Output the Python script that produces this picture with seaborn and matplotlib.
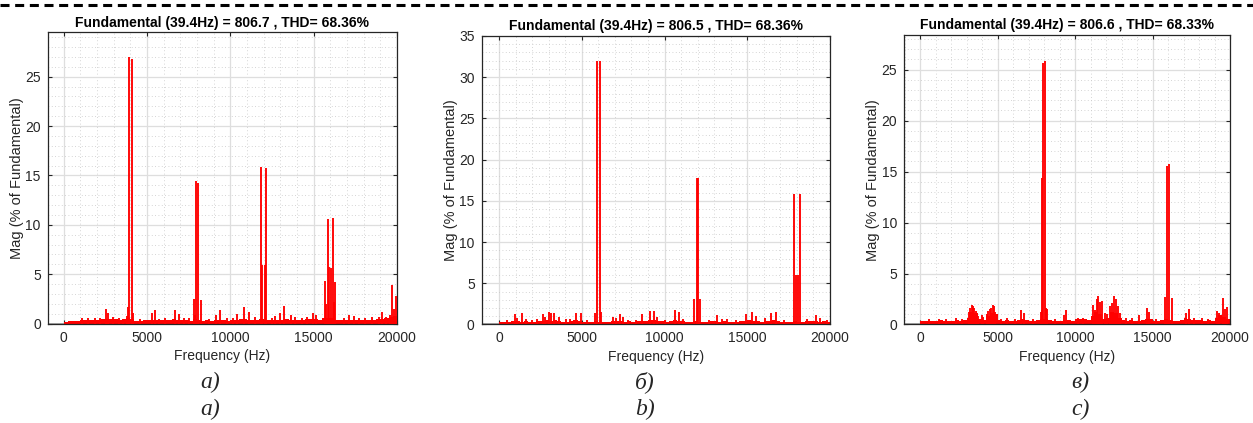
import matplotlib
matplotlib.use('Agg')
import matplotlib.pyplot as plt
from matplotlib.lines import Line2D
from matplotlib.ticker import MultipleLocator
import seaborn as sns

sns.set_theme(style='white')
plt.rcParams['font.family'] = ['Liberation Sans', 'DejaVu Sans']

# panel texts
titles = ['Fundamental (39.4Hz) = 806.7 , THD= 68.36%',
          'Fundamental (39.4Hz) = 806.5 , THD= 68.36%',
          'Fundamental (39.4Hz) = 806.6 , THD= 68.33%']
captions_ru = ['а)', 'б)', 'в)']
captions_en = ['a)', 'b)', 'c)']
y_top = [29.5, 35, 28.4]
x_left = [-950, -1050, -1020]

# noise floor, 250 Hz blocks from 0 to 20000 Hz
floor_hz = list(range(0, 20000, 250))
floor_a = [0.2, 0.25, 0.3, 0.3, 0.35, 0.35, 0.4, 0.35, 0.4, 0.45, 0.5, 0.45,
           0.45, 0.4, 0.45, 0.55, 0.5, 0.3, 0.3, 0.35, 0.35, 0.4, 0.35, 0.35,
           0.35, 0.35, 0.45, 0.4, 0.35, 0.35, 0.3, 0.45, 0.4, 0.3, 0.35, 0.3,
           0.35, 0.4, 0.35, 0.3, 0.35, 0.4, 0.45, 0.45, 0.4, 0.35, 0.35, 0.45,
           0.4, 0.35, 0.35, 0.4, 0.4, 0.45, 0.35, 0.35, 0.35, 0.4, 0.45, 0.5,
           0.45, 0.4, 0.55, 0.6, 0.55, 0.35, 0.35, 0.4, 0.35, 0.35, 0.4, 0.35,
           0.35, 0.4, 0.4, 0.45, 0.5, 0.55, 0.65, 0.75]
floor_b = [0.25, 0.3, 0.35, 0.4, 0.45, 0.35, 0.4, 0.35, 0.35, 0.4, 0.45, 0.5,
           0.45, 0.5, 0.4, 0.35, 0.35, 0.4, 0.5, 0.45, 0.3, 0.35, 0.3, 0.45,
           0.35, 0.3, 0.35, 0.4, 0.45, 0.4, 0.35, 0.4, 0.35, 0.4, 0.45, 0.4,
           0.5, 0.55, 0.45, 0.4, 0.35, 0.4, 0.5, 0.45, 0.4, 0.35, 0.3, 0.4,
           0.35, 0.3, 0.35, 0.4, 0.45, 0.35, 0.4, 0.35, 0.35, 0.3, 0.4, 0.45,
           0.5, 0.45, 0.4, 0.35, 0.4, 0.45, 0.5, 0.45, 0.35, 0.3, 0.35, 0.4,
           0.35, 0.35, 0.4, 0.45, 0.4, 0.35, 0.4, 0.35]
floor_c = [0.3, 0.35, 0.35, 0.35, 0.35, 0.4, 0.35, 0.35, 0.35, 0.4, 0.35, 0.4,
           0.6, 1.2, 1.1, 0.5, 0.45, 0.8, 1.1, 1.0, 0.4, 0.35, 0.4, 0.35,
           0.35, 0.4, 0.5, 0.4, 0.35, 0.35, 0.4, 0.5, 0.5, 0.4, 0.35, 0.35,
           0.35, 0.45, 0.4, 0.35, 0.5, 0.55, 0.5, 0.4, 0.8, 1.2, 1.0, 0.5,
           0.6, 1.2, 1.1, 0.6, 0.4, 0.35, 0.4, 0.35, 0.35, 0.45, 0.55, 0.5,
           0.35, 0.35, 0.4, 0.5, 0.45, 0.35, 0.35, 0.45, 0.6, 0.5, 0.45, 0.4,
           0.4, 0.35, 0.4, 0.35, 0.6, 0.9, 0.7, 0.5]

# harmonic lines (Hz, % of fundamental)
spike_hz_a = [3920, 4080, 3860, 4150, 3800, 7960, 8040, 7800, 8260, 7880,
              11840, 11920, 12080, 12160, 15700, 15760, 15840, 15950, 16070,
              16190, 16240, 16290, 19080, 19340, 19560, 19700, 19840, 19940,
              2550, 2670, 2990, 5300, 5460, 6680, 6900, 9130, 9370, 10390,
              10800, 11120, 12960, 13230, 13640, 14940, 15120, 17150, 17400,
              1100, 1450, 1900, 2200, 3300, 3550, 4600, 5700, 6100, 7200, 7500,
              8700, 9800, 10150, 11500, 12500, 12700, 13900, 14300, 14600,
              16800, 17700, 18100, 18500, 18900]
spike_mag_a = [27.0, 26.8, 1.65, 1.05, 0.8, 14.4, 14.2, 2.5, 2.4, 0.9,
               15.9, 5.9, 5.9, 15.8, 4.3, 2.0, 10.6, 5.77, 5.6,
               10.65, 2.2, 4.25, 1.15, 0.7, 0.9, 3.95, 1.45, 2.8,
               1.45, 1.04, 0.7, 1.1, 1.38, 1.38, 0.97, 0.84, 1.38, 0.97,
               1.7, 1.15, 1.1, 1.75, 0.85, 1.04, 0.87, 0.9, 0.8,
               0.55, 0.6, 0.6, 0.55, 0.6, 0.5, 0.45, 0.5, 0.55, 0.6, 0.55,
               0.5, 0.55, 0.6, 0.65, 0.6, 0.75, 0.65, 0.6, 0.7,
               0.6, 0.55, 0.6, 0.65, 0.7]
spike_hz_b = [5920, 6080, 5810, 6140, 11960, 12040, 11800, 12160,
              17840, 17920, 18080, 18160,
              950, 1110, 1360, 1640, 2640, 2770, 3000, 3150, 3300, 3610, 4030,
              4680, 4940, 6860, 7080, 7300, 7500, 8670, 9120, 9350, 9520,
              10620, 10880, 13150, 14920, 15270, 15530, 16420, 16760, 19130,
              19400,
              500, 2000, 2300, 4300, 5300, 7800, 8300, 10000, 11100, 12700,
              13500, 13800, 14300, 16100, 17200, 18600, 19800]
spike_mag_b = [32.0, 32.0, 1.44, 1.56, 17.8, 17.8, 3.07, 3.07,
               15.85, 6.0, 6.0, 15.85,
               1.28, 0.75, 1.35, 0.7, 1.25, 0.95, 1.5, 1.44, 1.38, 0.95, 0.7,
               1.44, 1.36, 0.95, 0.83, 1.3, 0.95, 1.24, 1.6, 1.65, 0.95,
               1.77, 1.48, 1.12, 1.24, 1.56, 1.04, 1.44, 1.48, 1.14,
               0.75,
               0.5, 0.6, 0.7, 0.65, 0.6, 0.6, 0.55, 0.6, 0.7, 0.6,
               0.7, 0.65, 0.6, 0.75, 0.6, 0.7, 0.6]
spike_hz_c = [7920, 8080, 7870, 7800, 7840, 8150, 8200,
              15920, 16080, 15830, 16240,
              3150, 3250, 3330, 3420, 3500, 3580, 3680, 3760, 3980, 4080,
              4300, 4400, 4500, 4600, 4690, 4780, 4860,
              6540, 6710, 9290, 9440, 11180, 11300, 11400, 11480, 11610, 11720,
              11910, 12040, 12260, 12390, 12540, 12650, 12770, 12900, 14110,
              14670, 14800, 17160, 17330, 19140, 19310, 19530, 19680, 19790,
              600, 1200, 1700, 2300, 2700, 5200, 5600, 6100, 7300, 8700, 10200,
              10500, 13300, 13700, 15200, 17700, 18200, 18600]
spike_mag_c = [25.65, 25.8, 14.4, 1.2, 1.4, 1.6, 1.5,
               15.5, 15.75, 2.7, 2.63,
               1.2, 1.6, 1.94, 1.85, 1.6, 1.3, 1.1, 0.8, 0.93, 0.7,
               1.0, 1.3, 1.55, 1.6, 1.94, 1.8, 1.2,
               1.42, 1.1, 0.96, 1.45, 1.9, 1.4, 2.47, 2.8, 2.2, 2.33,
               1.1, 1.0, 1.8, 2.1, 2.8, 2.47, 1.8, 1.1, 0.93,
               1.58, 1.25, 1.16, 1.49, 1.3, 1.1, 2.6, 1.55, 1.7,
               0.5, 0.55, 0.5, 0.6, 0.55, 0.55, 0.6, 0.5, 0.55, 0.5, 0.65,
               0.6, 0.6, 0.6, 0.55, 0.65, 0.6, 0.55]

floors = [floor_a, floor_b, floor_c]
spikes = [(spike_hz_a, spike_mag_a), (spike_hz_b, spike_mag_b), (spike_hz_c, spike_mag_c)]

rects = [(0.0381, 0.235, 0.2787, 0.6886),
         (0.3844, 0.2329, 0.2780, 0.6820),
         (0.7217, 0.2329, 0.2600, 0.6844)]
caption_x = [210 / 1253, 645 / 1253, 1080 / 1253]

fig = plt.figure(figsize=(12.53, 4.23), dpi=100)
fig.add_artist(Line2D([0, 1], [0.989, 0.989], transform=fig.transFigure,
                      color='black', lw=2.2, dashes=(2.95, 1.85)))

for i in range(3):
    ax = fig.add_axes(rects[i])
    ax.set_facecolor('white')
    ax.axhline(0, color='0.6', lw=1.2, zorder=1)
    ax.bar(floor_hz, floors[i], width=250, align='edge', color='red', lw=0, zorder=2)
    hz, mag = spikes[i]
    ax.vlines(hz, 0, mag, color='red', lw=1.35, zorder=3)
    ax.set_xlim(x_left[i], 20000)
    ax.set_ylim(0, y_top[i])
    ax.set_xticks([0, 5000, 10000, 15000, 20000])
    ax.yaxis.set_major_locator(MultipleLocator(5))
    ax.xaxis.set_minor_locator(MultipleLocator(1000))
    ax.yaxis.set_minor_locator(MultipleLocator(1))
    ax.grid(which='major', color='0.87', lw=0.9, ls='-', zorder=0)
    ax.grid(which='minor', color='0.78', lw=0.6, ls=(0, (1, 3)), zorder=0)
    ax.set_axisbelow(True)
    ax.tick_params(which='major', direction='in', length=3, width=0.8,
                   top=True, right=True, bottom=True, left=True,
                   labelsize=10, labelcolor='#262626', color='#262626', pad=5)
    ax.tick_params(which='minor', length=0)
    for s in ax.spines.values():
        s.set_color('#262626')
        s.set_linewidth(0.9)
    ax.set_title(titles[i], fontsize=10, fontweight='bold', color='black', pad=4)
    ax.set_xlabel('Frequency (Hz)', fontsize=10, color='#262626', labelpad=3)
    ax.set_ylabel('Mag (% of Fundamental)', fontsize=10.5, color='#262626', labelpad=1)

    fig.text(caption_x[i], 1 - 382 / 423, captions_ru[i], ha='center', va='center',
             fontsize=17, style='italic', family='Liberation Serif')
    fig.text(caption_x[i], 1 - 409 / 423, captions_en[i], ha='center', va='center',
             fontsize=17, style='italic', family='Liberation Serif')

fig.savefig('out.png', dpi=100)
